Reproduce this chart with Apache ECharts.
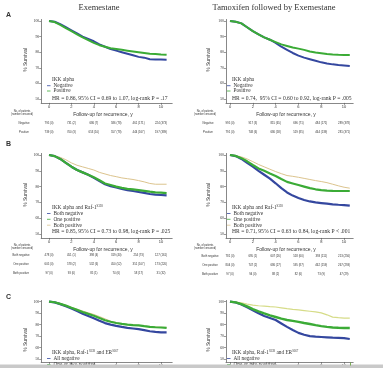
<!DOCTYPE html>
<html><head><meta charset="utf-8">
<script src="https://cdn.jsdelivr.net/npm/echarts@6/dist/echarts.min.js"></script>
<style>html,body{margin:0;padding:0;background:#fff}#c{width:383px;height:368px}</style>
</head><body><div id="c"></div>
<script>
// ---------- data ----------
const YEARS = [0,0.5,1,1.5,2,2.5,3,3.5,4,4.5,5,5.5,6,6.5,7,7.5,8,8.5,9,9.5,10,10.5];
const X_TICKS = [0,2,4,6,8,10];
const Y_TICKS = [50,60,70,80,90,100];
const TITLES = ['Exemestane','Tamoxifen followed by Exemestane'];
const LETTERS = ['A','B','C'];

// Panel A
const A_L_NEG = [100,99.5,98,96,94,92,90,88.5,87,85,83.5,82,81,80,79,78,77,76.5,75.5,75.3,75.3,75.2];
const A_L_POS = [100,99.3,97.5,95.5,93.5,91.5,89.5,87.8,86,84.5,83.5,82.5,82,81.5,81,80.5,80,79.5,79,78.8,78.5,78.3];
const A_R_NEG = [100,99.5,98.5,96,93.5,91.5,89.5,88,86,83.5,81.5,79.5,77.8,76.5,75.5,74.5,73.5,72.8,72.2,71.8,71.5,71.2];
const A_R_POS = [100,99.5,98.5,96,93.5,91.5,89.5,88,86.5,85,84,83,82.3,81.5,80.5,79.8,79.3,78.8,78.5,78.3,78.2,78.2];
// Panel B
const B_L_NEG = [100,99.3,97.5,95,92.6,90.5,89,87.5,85.5,83.5,81.5,80.3,79.4,78.5,77.8,77.2,76.6,76,75.3,74.9,74.7,74.5];
const B_L_ONE = [100,99.3,97.5,95,92.6,90.5,89,87.5,85.9,84,82,81,80,79.2,78.6,78.2,77.8,77.3,76.8,76.4,76.2,75.9];
const B_L_BOTH = [100,99.5,98.5,97,95,93.5,92.5,91.5,90.5,89,88,87,86.3,85.5,85,84.5,83.8,83,82,81.5,81.5,81.5];
const B_R_NEG = [100,99.3,97.5,95,92.6,90,87.5,85,82.1,79,76.3,74.3,72.8,71.5,70.6,70,69.6,69.2,68.8,68.5,68.3,67.9];
const B_R_ONE = [100,99.4,98,96,93.7,91.5,90,88.3,86.7,84.8,83,82,81,80,79,78.3,77.8,77.5,77.3,77.2,77.2,77.2];
const B_R_BOTH = [100,99.6,98.8,97.5,95.8,94,92.5,91,89.5,88.2,87,86.5,85.9,85.2,84.5,83.8,83.2,82.5,81.5,80.5,79.6,79];
// Panel C
const C_L_NEG = [100,99.3,97.8,96,94,91.8,89.5,87.5,85.5,83.3,81.3,80,78.9,78,77.2,76.6,76,75.2,74.2,73.6,73.3,73.3];
const C_L_ONE = [100,99.4,98,96.5,94.6,92.8,91,89.3,87.7,85.8,83.8,82.5,81.4,80.6,80,79.6,79.3,78.6,78,77.7,77.5,77.2];
const C_L_ALL = [100,99.5,98.3,96.8,95,93.3,91.8,90.3,88.8,87,85,83,81.8,80.8,80.2,79.8,79.4,78.8,78.2,77.9,77.7,77.5];
const C_R_NEG = [100,99.2,97.5,95,92.5,89.8,87.5,85.8,84,81,78,75.3,72.8,71.2,70,69.5,69.2,68.9,68.6,68.4,68.2,67.5];
const C_R_ONE = [100,99.3,97.8,95.8,93.4,91.5,89.7,88,86.6,85.2,84,83.2,82.4,81.4,80.5,79.5,78.7,78,77.5,77.2,77,77];
const C_R_ALL = [100,99.5,98.8,97.8,97,96.4,96,95.6,95.3,94.6,93.9,93.3,92.8,92.2,91.6,91,90.2,88.5,86.5,86,85.7,85.7];

// Legends
const LEG_A_HEAD = 'IKK alpha';
const LEG_A_ITEMS = ['Negative','Positive'];
const LEG_A_HR = ['HR = 0.86, 95% CI = 0.69 to 1.07, log-rank P = .17','HR = 0.74,  95% CI = 0.60 to 0.92, log-rank P = .005'];
const LEG_B_HEAD = 'IKK alpha and Raf-1{s|S338}';
const LEG_B_ITEMS = ['Both negative','One positive','Both positive'];
const LEG_B_HR = ['HR = 0.85, 95% CI = 0.73 to 0.98, log-rank P = .025','HR = 0.71, 95% CI = 0.63 to 0.84, log-rank P < .001'];
const LEG_C_HEAD = 'IKK alpha, Raf-1{s|S338} and ER{s|S167}';
const LEG_C_ITEMS = ['All negative','One or two positive'];

// Number at risk tables
const TAB_A_ROWS = ['Negative','Positive'];
const TAB_A_L = [['795 (0)','731 (2)','686 (7)','586 (78)','461 (171)','224 (373)'],
                 ['739 (0)','700 (3)','653 (10)','557 (78)','444 (167)','197 (389)']];
const TAB_A_R = [['995 (0)','917 (3)','815 (65)','696 (71)','484 (171)','289 (378)'],
                 ['791 (0)','748 (6)','680 (58)','519 (85)','464 (139)','281 (371)']];
const TAB_B_ROWS = ['Both negative','One positive','Both positive'];
const TAB_B_L = [['478 (0)','451 (1)','398 (4)','319 (40)','254 (73)','127 (161)'],
                 ['605 (0)','578 (2)','532 (6)','450 (52)','351 (107)','173 (220)'],
                 ['97 (0)','93 (0)','85 (1)','74 (6)','58 (17)','31 (32)']];
const TAB_B_R = [['781 (0)','695 (1)','607 (26)','518 (60)','393 (111)','213 (256)'],
                 ['804 (0)','747 (2)','686 (27)','595 (87)','462 (159)','267 (293)'],
                 ['97 (0)','94 (0)','88 (2)','82 (6)','73 (9)','47 (29)']];

// ---------- styling / layout ----------
const BLUE = '#34479f', GREEN = '#3bab36', TAN = '#dcc48e', YEL = '#d6dc88';
const SERIF = 'Liberation Serif', SANS = 'Liberation Sans';
const TXT = '#333';

const panels = [
  {grid:{left:41.2,width:131,top:19.44,height:83.46}, x:[-0.7,11], y:[47.5,101],
   curves:[[A_L_NEG,BLUE,2],[A_L_POS,GREEN,2]]},
  {grid:{left:226,width:127.2,top:19.44,height:83.46}, x:[-0.35,10.8], y:[47.5,101],
   curves:[[A_R_NEG,BLUE,2],[A_R_POS,GREEN,2]]},
  {grid:{left:41.2,width:131,top:153.42,height:84.53}, x:[-0.7,11], y:[47.5,101],
   curves:[[B_L_BOTH,TAN,1],[B_L_NEG,BLUE,2.2],[B_L_ONE,GREEN,2.2]]},
  {grid:{left:226,width:127.2,top:153.42,height:84.53}, x:[-0.35,10.8], y:[47.5,101],
   curves:[[B_R_BOTH,TAN,1],[B_R_NEG,BLUE,2.2],[B_R_ONE,GREEN,2.2]]},
  {grid:{left:41.2,width:131,top:300.43,height:83.96}, x:[-0.7,11], y:[47.5,101],
   curves:[[C_L_ALL,TAN,1],[C_L_NEG,BLUE,2.2],[C_L_ONE,GREEN,2.2]]},
  {grid:{left:226,width:127.2,top:300.43,height:83.96}, x:[-0.35,10.8], y:[47.5,101],
   curves:[[C_R_ALL,YEL,1.2],[C_R_NEG,BLUE,2.2],[C_R_ONE,GREEN,2.4]]}
];

const chart = echarts.init(document.getElementById('c'), null, {renderer:'canvas'});
const grids = [], xAxes = [], yAxes = [], series = [];
panels.forEach((p, i) => {
  grids.push(Object.assign({containLabel:false}, p.grid));
  xAxes.push({type:'value', gridIndex:i, min:p.x[0], max:p.x[1],
    axisLine:{show:true, onZero:false, lineStyle:{color:'#555', width:0.7}},
    axisTick:{show:true, customValues:X_TICKS, length:2, lineStyle:{color:'#555', width:0.6}},
    axisLabel:{customValues:X_TICKS, fontSize:4, fontFamily:SANS, color:TXT, margin:2},
    splitLine:{show:false}});
  yAxes.push({type:'value', gridIndex:i, min:p.y[0], max:p.y[1],
    axisLine:{show:true, onZero:false, lineStyle:{color:'#555', width:0.7}},
    axisTick:{show:true, customValues:Y_TICKS, length:2, lineStyle:{color:'#555', width:0.6}},
    axisLabel:{customValues:Y_TICKS, fontSize:3.8, fontFamily:SERIF, color:TXT, margin:2},
    splitLine:{show:false}});
  p.curves.forEach(c => {
    series.push({type:'line', xAxisIndex:i, yAxisIndex:i, showSymbol:false, silent:true,
      data: YEARS.map((yr, k) => [yr, c[0][k]]),
      lineStyle:{color:c[1], width:c[2]}, itemStyle:{color:c[1]}, animation:false});
  });
});

chart.setOption({animation:false, backgroundColor:'#fff', grid:grids, xAxis:xAxes, yAxis:yAxes, series:series});

// ---------- text / annotations ----------
const g = [];
function txt(x, y, text, size, opts) {
  opts = opts || {};
  g.push({type:'text', x:x, y:y, rotation:opts.rot || 0, z:50,
    style:{text:text, fontSize:size, fontFamily:opts.font || SERIF, fontWeight:opts.weight || 'normal',
      fill:opts.color || TXT, align:opts.align || 'left', verticalAlign:'middle',
      rich: opts.rich}});
}
const SUP = {s:{fontSize:3, fontFamily:SERIF, fill:TXT, verticalAlign:'top', lineHeight:6}};
// titles
txt(99, 7.5, TITLES[0], 8.5, {align:'center'});
txt(274, 7.5, TITLES[1], 8.5, {align:'center'});
// letters
txt(6, 15, LETTERS[0], 7, {font:SANS, weight:'bold'});
txt(6, 144, LETTERS[1], 7, {font:SANS, weight:'bold'});
txt(6, 297, LETTERS[2], 7, {font:SANS, weight:'bold'});
// y-axis titles
[[26,60],[209,60],[26,195],[209,195],[26,340],[209,340]].forEach(q =>
  txt(q[0], q[1], '% Survival', 5, {align:'center', rot:Math.PI/2, font:SANS}));
// x-axis titles + "No. of patients"
[[103,115],[286,115],[103,249.5],[286,249.5]].forEach(q =>
  txt(q[0], q[1], 'Follow-up for recurrence, y', 5, {align:'center', font:SANS}));
[[22,113],[205,113],[22,247],[205,247]].forEach(q =>
  txt(q[0], q[1], 'No. of patients\n(number censored)', 2.6, {align:'center', font:SANS}));

// legends
function legend(hx, lx, rows, colors, head, items, hr) {
  txt(hx, rows[0], head, 5.3, {rich:SUP});
  items.forEach((it, k) => {
    g.push({type:'line', z:50, shape:{x1:lx, y1:rows[k+1], x2:lx+3.5, y2:rows[k+1]},
      style:{stroke:colors[k], lineWidth:0.8}});
    txt(hx + 1.5, rows[k+1], it, 5.3);
  });
  if (hr) txt(hx, rows[rows.length-1], hr, 5.6);
}
legend(52, 47, [80,85.7,91,98.3], [BLUE,GREEN], LEG_A_HEAD, LEG_A_ITEMS, LEG_A_HR[0]);
legend(232, 227, [80,85.7,91,98.3], [BLUE,GREEN], LEG_A_HEAD, LEG_A_ITEMS, LEG_A_HR[1]);
legend(52, 47, [207.3,213.5,219.3,225.2,231.7], [BLUE,GREEN,TAN], LEG_B_HEAD, LEG_B_ITEMS, LEG_B_HR[0]);
legend(232, 227, [207.3,213.5,219.3,225.2,231.7], [BLUE,GREEN,TAN], LEG_B_HEAD, LEG_B_ITEMS, LEG_B_HR[1]);
legend(52, 47, [352.7,358.5,364.5], [BLUE,GREEN], LEG_C_HEAD, LEG_C_ITEMS, null);
legend(232, 227, [352.7,358.5,364.5], [BLUE,GREEN], LEG_C_HEAD, LEG_C_ITEMS, null);

// number-at-risk tables, columns placed through each panel's x axis
function table(pi, labelX, ys, rows, vals) {
  rows.forEach((r, k) => {
    txt(labelX, ys[k], r, 2.8, {align:'center', font:SANS});
    X_TICKS.forEach((t, j) => {
      const px = chart.convertToPixel({xAxisIndex:pi}, t);
      txt(px, ys[k], vals[k][j], 2.8, {align:'center', font:SANS});
    });
  });
}
table(0, 24, [123.5,132], TAB_A_ROWS, TAB_A_L);
table(1, 208, [123.5,132], TAB_A_ROWS, TAB_A_R);
table(2, 21, [255,264,273], TAB_B_ROWS, TAB_B_L);
table(3, 210, [256,265,274], TAB_B_ROWS, TAB_B_R);

// bottom grey strip of the page
g.push({type:'rect', z:100, shape:{x:0, y:364.5, width:383, height:4}, style:{fill:'#c9c9c9'}});
g.push({type:'line', z:101, shape:{x1:350.5, y1:362.5, x2:350.5, y2:365.5}, style:{stroke:'#5aa02c', lineWidth:0.8}});

chart.setOption({graphic:g});
</script>
</body></html>
